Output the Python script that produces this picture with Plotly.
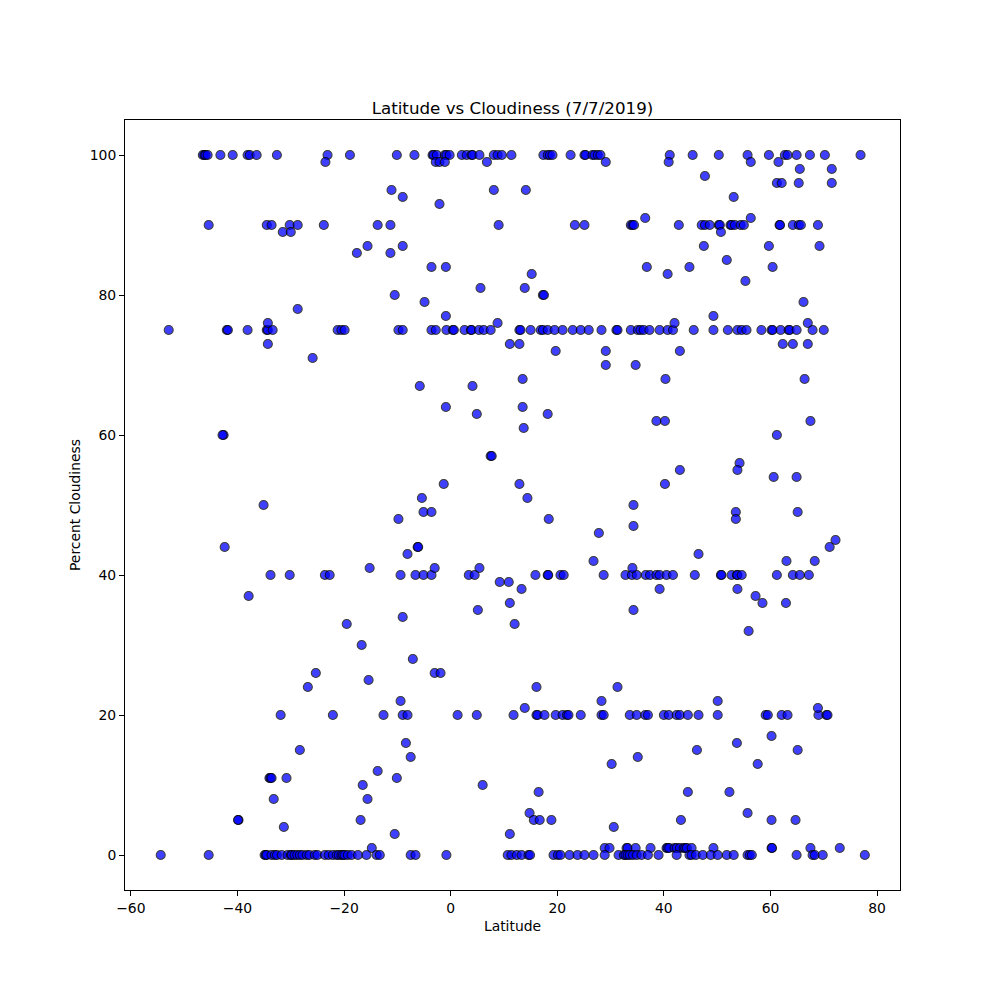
import plotly.graph_objects as go

# Latitudes of cities grouped by their cloudiness value
lat_100 = [-46.5, -46.2, -46.0, -45.6, -43.2, -40.9, -38.1, -37.7, -36.4, -32.6, -23.1, -18.9,
           -10.1, -6.8, -3.4, -3.2, -2.6, -1.1, -0.8, -0.2, 2.1, 3.0, 3.9, 4.1, 5.4, 8.1, 8.8,
           9.6, 11.4, 17.4, 18.2, 18.6, 19.1, 22.5, 25.1, 25.3, 26.6, 27.0, 27.6, 28.1, 41.1,
           45.4, 50.3, 55.7, 59.7, 62.7, 63.2, 64.9, 67.4, 70.2, 76.9]
lat_90 = [-45.4, -34.5, -33.6, -30.2, -28.7, -23.8, -13.7, -11.3, 9.0, 23.3, 25.1, 33.8, 34.1,
          34.4, 42.8, 47.1, 47.7, 48.6, 50.3, 50.5, 52.5, 52.7, 53.3, 54.4, 55.0, 61.7, 61.8,
          64.2, 65.3, 65.7, 68.9]
lat_75 = [-52.9, -42.0, -41.8, -38.1, -34.5, -34.3, -33.4, -21.2, -20.5, -19.9, -9.8, -9.0,
          -3.6, -2.8, -0.8, 0.4, 0.6, 2.6, 3.8, 3.9, 5.3, 6.2, 7.5, 12.9, 13.1, 15.0, 16.9,
          17.3, 18.2, 19.5, 21.0, 22.9, 24.4, 25.9, 28.3, 31.1, 31.3, 33.8, 35.1, 35.6, 36.2,
          37.3, 39.2, 40.7, 41.7, 45.6, 49.3, 52.0, 53.8, 54.6, 55.5, 58.3, 60.2, 60.4, 61.9,
          63.4, 63.6, 64.9, 67.9, 70.0]
lat_40 = [-33.8, -30.2, -23.6, -22.7, -9.4, -6.6, -5.1, -3.6, 3.4, 4.5, 15.9, 18.2, 18.3,
          20.6, 21.2, 28.7, 32.8, 34.0, 34.9, 36.6, 37.4, 38.6, 39.2, 40.5, 41.7, 45.8, 50.7,
          50.8, 52.7, 53.7, 53.8, 54.6, 61.2, 64.2, 65.5, 67.2]
lat_20 = [-31.9, -22.1, -12.6, -9.0, -8.1, 1.3, 4.9, 11.8, 16.1, 16.3, 17.6, 19.7, 21.0, 21.8,
          22.1, 24.4, 28.3, 28.7, 33.6, 34.9, 36.5, 37.0, 40.0, 40.9, 42.4, 43.0, 44.5, 46.5,
          50.1, 59.1, 59.5, 62.1, 63.2, 69.0, 70.5, 70.7]
lat_1 = [-14.8, 28.9, 29.8, 33.0, 33.2, 34.7, 37.5, 40.5, 40.7, 41.0, 42.0, 42.4, 43.0, 43.7,
         44.0, 44.3, 45.2, 49.3, 60.2, 60.3, 67.5, 73.0]
lat_0 = [-54.4, -45.4, -34.9, -34.7, -34.5, -33.6, -33.0, -32.6, -31.7, -30.6, -30.0, -29.8,
         -29.3, -28.8, -28.3, -27.8, -27.0, -26.5, -25.5, -25.0, -23.6, -22.9, -22.1, -21.4,
         -21.0, -20.5, -20.2, -19.9, -19.3, -18.6, -17.4, -15.8, -13.9, -13.3, -7.5, -6.6,
         -0.8, 10.7, 11.4, 12.4, 13.3, 14.6, 14.9, 19.3, 20.1, 20.6, 22.3, 23.8, 25.1, 26.8,
         28.9, 31.5, 32.5, 32.8, 33.2, 33.6, 34.2, 34.9, 35.8, 37.0, 39.0, 42.4, 44.8, 45.2,
         46.0, 47.3, 48.8, 50.1, 51.8, 53.1, 55.7, 56.1, 56.5, 64.9, 67.9, 68.3, 69.8, 77.7]

# Remaining cities with less common cloudiness values
other_lat = [-23.5, -2.8, -2.1, -1.1, 6.8, 29.1, 40.9, 56.3, 61.5, 65.5, 71.5, 47.7, 61.2, 62.1,
             65.3, 71.5, -11.1, 8.1, 14.1, -9.0, 53.1, -2.1, 36.5, 56.3, -31.5, -30.0, 50.7,
             -15.6, -9.0, 47.5, 59.7, 69.2, -17.6, -11.3, 51.8, -3.6, -0.9, 36.8, 44.8, 60.4,
             15.2, 40.7, 55.3, 5.6, 13.9, -10.5, 17.3, 17.5, -4.9, 66.2, -28.7, -0.9, 49.3,
             -34.3, 8.8, 42.0, 67.0, -34.3, 11.1, 12.9, 62.3, 64.2, 67.0, 19.7, 29.1, 43.0,
             -25.9, 29.1, 34.7, 13.5, 40.3, 66.4, -5.8, 4.1, -0.9, 13.5, 4.9, 18.2, 38.6, 40.2,
             67.5, 13.7, -42.6, -42.8, 61.2, 7.5, 7.7, 54.2, 43.0, 53.8, 60.6, 64.9, -1.3, 12.9,
             40.2, -5.4, 14.4, -35.1, 34.3, -5.1, -3.6, 53.5, 65.1, -9.8, 18.4, 53.5, 34.3, 27.8,
             72.2, -42.4, -6.2, -6.1, 71.1, -8.1, 46.5, 26.8, 63.0, 68.3, -15.2, -3.0, 5.4, 34.1,
             9.2, 10.9, 13.3, 39.2, 53.8, -37.9, 57.2, 11.1, 58.5, 62.9, 5.1, 34.3, -9.0, -19.5,
             12.0, 55.9, -16.7, -7.1, -25.3, -3.0, -1.9, -15.4, -26.8, 16.1, 31.3, -9.4, 28.3,
             50.1, 13.9, 68.9, 60.2, -8.4, 53.7, -28.3, 46.2, 65.1, -7.5, 35.1, 30.2, 57.6,
             -13.7, -34.0, -33.8, -33.6, -30.8, -10.1, -16.5, 6.0, 16.5, 44.5, 52.3, -33.2,
             -15.6, 14.8, 55.7, -39.8, -39.9, -16.9, 15.6, 16.7, 18.9, 43.2, 60.2, 64.7, -31.3,
             30.6, -10.5, 11.1]
other_cloud = [99, 99, 99, 99, 99, 99, 99, 99, 99, 98, 98, 97, 96, 96,
               96, 96, 95, 95, 95, 94, 94, 93, 91, 91, 89, 89, 89,
               87, 87, 87, 87, 87, 86, 86, 85, 84, 84, 84, 84, 84,
               83, 83, 82, 81, 81, 80, 80, 80, 79, 79, 78, 77, 77,
               76, 76, 76, 76, 73, 73, 73, 73, 73, 73, 72, 72, 72,
               71, 70, 70, 68, 68, 68, 67, 67, 64, 64, 63, 63, 62, 62,
               62, 61, 60, 60, 60, 57, 57, 56, 55, 55, 54, 54, 53, 53,
               53, 51, 51, 50, 50, 49, 49, 49, 49, 48, 48, 48, 47, 46,
               45, 44, 44, 44, 44, 43, 43, 42, 42, 42, 41, 41, 41, 41,
               39, 39, 38, 38, 38, 37, 37, 36, 36, 36, 35, 35, 34, 33,
               33, 32, 30, 28, 26, 26, 26, 25, 24, 24, 24, 22, 22,
               22, 21, 21, 17, 16, 16, 15, 15, 15, 14, 14, 13, 13,
               12, 11, 11, 11, 11, 11, 10, 10, 9, 9, 9, 8,
               8, 6, 6, 5, 5, 5, 5, 5, 5, 5, 5, 5, 4,
               4, 3, 3]

x_ticks = [-60, -40, -20, 0, 20, 40, 60, 80]
y_ticks = [0, 20, 40, 60, 80, 100]

latitude = (lat_100 + lat_90 + lat_75 + lat_40 + lat_20 + lat_1 + lat_0 + other_lat)
cloudiness = ([100] * len(lat_100) + [90] * len(lat_90) + [75] * len(lat_75)
              + [40] * len(lat_40) + [20] * len(lat_20) + [1] * len(lat_1)
              + [0] * len(lat_0) + other_cloud)

fig = go.Figure(go.Scatter(
    x=latitude, y=cloudiness, mode="markers",
    marker=dict(size=9, color="blue", opacity=0.75,
                line=dict(color="black", width=1.1)),
))

font = "DejaVu Sans, sans-serif"
axis_common = dict(showline=True, mirror=True, linecolor="black", linewidth=1,
                   ticks="outside", ticklen=5, tickwidth=1, tickcolor="black",
                   showgrid=False, zeroline=False,
                   tickfont=dict(family=font, size=13.9, color="black"))

fig.update_layout(
    width=1000, height=1000,
    margin=dict(l=117, r=108, t=112, b=118),
    paper_bgcolor="white", plot_bgcolor="white",
    showlegend=False,
    title=dict(text="Latitude vs Cloudiness (7/7/2019)", x=0.5, xref="paper",
               xanchor="center", y=1, yref="paper", yanchor="bottom",
               pad=dict(b=6), font=dict(family=font, size=16.7, color="black")),
    xaxis=dict(range=[-61.1, 84.3], tickvals=x_ticks,
               title=dict(text="Latitude", standoff=6,
                          font=dict(family=font, size=13.9, color="black")),
               **axis_common),
    yaxis=dict(range=[-5, 105], tickvals=y_ticks,
               title=dict(text="Percent Cloudiness", standoff=5,
                          font=dict(family=font, size=13.9, color="black")),
               **axis_common),
)

fig.write_html("out.html")
